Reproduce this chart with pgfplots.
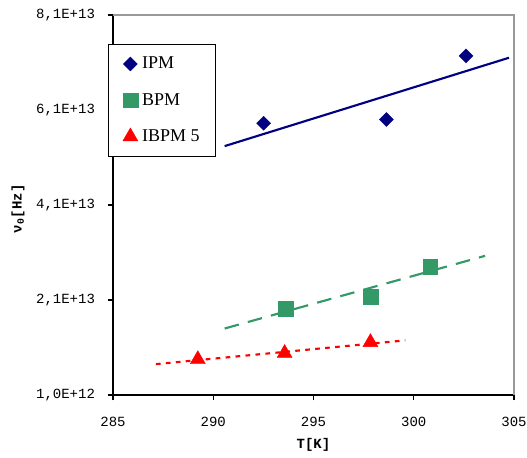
\documentclass[border=0pt]{standalone}
\usepackage{fontspec}
\setmainfont{Liberation Serif}
\newfontfamily\monofont{Liberation Mono}
\usepackage{pgfplots}
\pgfplotsset{compat=1.18}
\definecolor{ipm}{RGB}{0,0,128}
\definecolor{bpm}{RGB}{51,153,102}
\begin{document}
\begin{tikzpicture}
\useasboundingbox (-84.75pt,-46.5pt) rectangle ++(395.25pt,342.75pt);
\begin{axis}[
  at={(0,0)}, anchor=south west,
  scale only axis,
  width=300.75pt, height=285pt,
  xmin=285, xmax=305, ymin=1e12, ymax=8.1e13,
  xtick={285,290,295,300,305},
  ytick={1e12,2.1e13,4.1e13,6.1e13,8.1e13},
  scaled y ticks=false,
  yticklabels={{1,0E+12},{2,1E+13},{4,1E+13},{6,1E+13},{8,1E+13}},
  xticklabels={285,290,295,300,305},
  tick align=outside,
  major tick length=4pt,
  axis x line*=bottom, axis y line*=left,
  axis line style={line width=1.2pt, black, -},
  tick style={black, line width=1pt},
  ticklabel style={font=\monofont\fontsize{10.5}{12}\selectfont},
  xticklabel style={anchor=north, yshift=-9pt},
  yticklabel style={anchor=east, xshift=-6pt},
  xlabel={\textbf{T[K]}},
  ylabel={\textbf{ν\textsubscript{0}[Hz]}},
  label style={font=\monofont\fontsize{10.5}{12}\selectfont},
  xlabel style={at={(axis description cs:0.5,-0.1316)}, anchor=center},
  ylabel style={at={(axis description cs:-0.237,0.49)}, anchor=center},
  clip=false,
  legend cell align=left,
  legend style={at={(rel axis cs:-0.0125,0.9237)}, anchor=north west,
    draw=black, line width=0.6pt, fill=white,
    font=\fontsize{13.5}{15}\selectfont,
    row sep=12.9pt, inner ysep=7.5pt, inner xsep=9.5pt,
    nodes={line width=0.4pt}},
  legend image code/.code={\path[draw=none,fill=none] (0pt,0pt) -- (13.75pt,0pt); \draw[#1] plot coordinates {(7pt,0pt)};},
]
% gray top and right frame
\draw[gray!80, line width=1.2pt] (rel axis cs:0,1) -- (rel axis cs:1,1) -- (rel axis cs:1,0);
% trend lines
\addplot[ipm, line width=1.6pt, forget plot] coordinates {(290.57,5.34e13) (304.75,7.20e13)};
\addplot[bpm, line width=1.6pt, dash pattern=on 11pt off 7pt, forget plot] coordinates {(290.57,1.50e13) (303.56,3.03e13)};
\addplot[red, line width=1.6pt, dash pattern=on 3.5pt off 4pt, forget plot] coordinates {(287.14,7.5e12) (299.58,1.25e13)};
% data
\addplot[only marks, mark=square*, mark size=3.7pt, mark options={rotate=45, fill=ipm, draw=ipm, line width=0.3pt}] coordinates {
  (292.51,5.82e13) (298.63,5.90e13) (302.61,7.24e13)};
\addlegendentry{IPM}
\addplot[only marks, mark=square*, mark size=5.5pt, mark options={fill=bpm, draw=bpm, line width=0.3pt}] coordinates {
  (293.60,1.92e13) (297.84,2.17e13) (300.82,2.80e13)};
\addlegendentry{BPM}
\addplot[only marks, mark=triangle*, mark size=6.5pt, mark options={fill=red, draw=red, line width=0.3pt}] coordinates {
  (289.23,8.5e12) (293.56,9.8e12) (297.84,1.21e13)};
\addlegendentry{IBPM 5}
\end{axis}
\end{tikzpicture}
\end{document}
